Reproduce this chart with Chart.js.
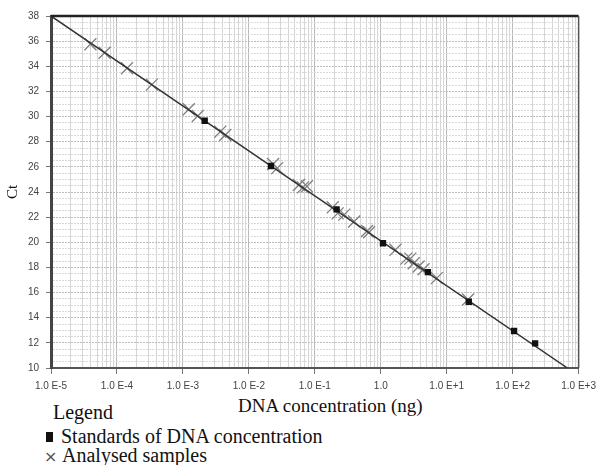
<!DOCTYPE html>
<html>
<head>
<meta charset="utf-8">
<script src="https://cdn.jsdelivr.net/npm/chart.js@4/dist/chart.umd.min.js"></script>
<style>
  body { margin: 0; background: #fff; }
  #wrap { position: relative; width: 602px; height: 465px; overflow: hidden; }
  #chart { position: absolute; left: 0; top: 0; }
  .leg { position: absolute; font-family: "Liberation Serif", serif; font-size: 20px; color: #111; line-height: 20px; white-space: nowrap; }
  .sq { display: inline-block; width: 7px; height: 10px; background: #111; margin-right: 8px; vertical-align: 1px; }
  .x { display: inline-block; width: 12px; margin-right: 6px; color: #555; font-family: "DejaVu Sans", sans-serif; font-size: 16px; }
  #xtitle { position: absolute; left: 238px; top: 395px; font-family: "Liberation Serif", serif; font-size: 19px; color: #111; line-height: 22px; white-space: nowrap; }
</style>
</head>
<body>
<div id="wrap">
  <canvas id="chart" width="602" height="395"></canvas>
  <div id="xtitle">DNA concentration (ng)</div>
  <div class="leg" style="left:53px; top:402px;">Legend</div>
  <div class="leg" style="left:46px; top:426px;"><span class="sq"></span>Standards of DNA concentration</div>
  <div class="leg" style="left:44px; top:445px;"><span class="x">×</span>Analysed samples</div>
</div>
<script>
// Estándares (cuadrados negros): concentración (ng) y Ct
const standardConc = [0.00214, 0.0216, 0.214, 1.08, 5.18, 21.6, 105, 219];
const standardCt   = [29.67, 26.07, 22.62, 19.92, 17.63, 15.27, 12.94, 11.96];

// Muestras analizadas (cruces grises)
const sampleConc = [3.96e-5, 6.5e-5, 1.42e-4, 3.38e-4, 1.23e-3, 1.68e-3, 3.69e-3, 4.38e-3,
                    0.0233, 0.0269, 0.0574, 0.066, 0.0759, 0.187, 0.222, 0.28, 0.395,
                    0.62, 0.665, 1.67, 2.44, 2.81, 3.16, 3.75, 4.46, 7.08, 21.1];
const sampleCt   = [35.75, 35.08, 33.84, 32.54, 30.58, 30.04, 28.80, 28.53,
                    26.23, 25.90, 24.56, 24.37, 24.45, 22.78, 22.30, 22.20, 21.65,
                    20.90, 20.80, 19.40, 18.70, 18.70, 18.33, 18.07, 17.85, 17.15, 15.45];

// Recta de calibración
const fitConc = [1e-5, 676];
const fitCt   = [38, 10];

// Ejes
const xTickPowers = [-5, -4, -3, -2, -1, 0, 1, 2, 3];
const xTickLabels = ['1.0 E-5', '1.0 E-4', '1.0 E-3', '1.0 E-2', '1.0 E-1', '1.0', '1.0 E+1', '1.0 E+2', '1.0 E+3'];
const yTickLabels = [10, 12, 14, 16, 18, 20, 22, 24, 26, 28, 30, 32, 34, 36, 38];

const toPoints = (xs, ys) => xs.map((x, i) => ({ x: x, y: ys[i] }));

function powerIndex(v) {
    const lg = Math.log10(v);
    return xTickPowers.findIndex(p => Math.abs(p - lg) < 1e-6);
}

// Borde superior y derecho del área del gráfico
const frame = {
    id: 'frame',
    afterDraw(chart) {
        const { ctx, chartArea: a } = chart;
        ctx.save();
        ctx.strokeStyle = '#222';
        ctx.lineWidth = 2.5;
        ctx.beginPath();
        ctx.moveTo(a.left, a.top);
        ctx.lineTo(a.right, a.top);
        ctx.stroke();
        ctx.strokeStyle = '#555';
        ctx.lineWidth = 1.5;
        ctx.beginPath();
        ctx.moveTo(a.right, a.top);
        ctx.lineTo(a.right, a.bottom);
        ctx.stroke();
        ctx.restore();
    }
};

const tickFont = { family: 'Liberation Sans', size: 10 };

new Chart(document.getElementById('chart'), {
    type: 'scatter',
    data: {
        datasets: [
            {
                label: 'Standards of DNA concentration',
                data: toPoints(standardConc, standardCt),
                pointStyle: 'rect',
                pointRadius: 4.5,
                backgroundColor: '#111',
                borderColor: '#111',
                borderWidth: 0
            },
            {
                label: 'fit',
                type: 'line',
                data: toPoints(fitConc, fitCt),
                borderColor: '#333',
                borderWidth: 1.5,
                pointRadius: 0,
                fill: false
            },
            {
                label: 'Analysed samples',
                data: toPoints(sampleConc, sampleCt),
                pointStyle: 'crossRot',
                pointRadius: 8.5,
                borderColor: '#808080',
                borderWidth: 1.3
            }
        ]
    },
    options: {
        responsive: false,
        animation: false,
        devicePixelRatio: 1,
        layout: { padding: { top: 16, right: 18, left: 0, bottom: 0 } },
        plugins: { legend: { display: false }, tooltip: { enabled: false } },
        scales: {
            x: {
                type: 'logarithmic',
                min: 1e-5,
                max: 1e3,
                afterBuildTicks(scale) {
                    const ticks = [];
                    for (let p = xTickPowers[0]; p < xTickPowers[xTickPowers.length - 1]; p++) {
                        for (let m = 1; m <= 9; m++) ticks.push({ value: m * Math.pow(10, p) });
                    }
                    ticks.push({ value: Math.pow(10, xTickPowers[xTickPowers.length - 1]) });
                    scale.ticks = ticks;
                },
                afterFit(scale) { scale.height = 27; },
                ticks: {
                    autoSkip: false,
                    maxRotation: 0,
                    padding: 6,
                    color: '#444',
                    font: tickFont,
                    callback: function(value) {
                        const i = powerIndex(value);
                        return i >= 0 ? xTickLabels[i] : '';
                    }
                },
                grid: {
                    color: c => (c.tick && powerIndex(c.tick.value) >= 0) ? '#b8b8b8' : '#d6d6d6',
                    tickColor: c => (c.tick && powerIndex(c.tick.value) >= 0) ? '#777' : 'rgba(0,0,0,0)',
                    tickLength: 6,
                    lineWidth: 1
                },
                border: { color: '#555', width: 2 }
            },
            y: {
                type: 'linear',
                min: 10,
                max: 38,
                afterBuildTicks(scale) {
                    const ticks = [];
                    for (let v = yTickLabels[0]; v <= yTickLabels[yTickLabels.length - 1] + 1e-9; v += 0.5) {
                        ticks.push({ value: v });
                    }
                    scale.ticks = ticks;
                },
                afterFit(scale) { scale.width = 51; },
                ticks: {
                    autoSkip: false,
                    padding: 7,
                    color: '#444',
                    font: tickFont,
                    callback: v => yTickLabels.includes(v) ? String(v) : ''
                },
                grid: {
                    color: c => (c.tick && yTickLabels.includes(c.tick.value)) ? '#bdbdbd' : '#dadada',
                    tickColor: c => (c.tick && yTickLabels.includes(c.tick.value)) ? '#777' : 'rgba(0,0,0,0)',
                    tickLength: 5,
                    lineWidth: 1
                },
                border: { color: '#444', width: 3, dash: [2, 1] },
                title: {
                    display: true,
                    text: 'Ct',
                    color: '#111',
                    font: { family: 'Liberation Serif', size: 15 },
                    padding: { top: 4, bottom: 0 }
                }
            }
        }
    },
    plugins: [frame]
});
</script>
</body>
</html>
